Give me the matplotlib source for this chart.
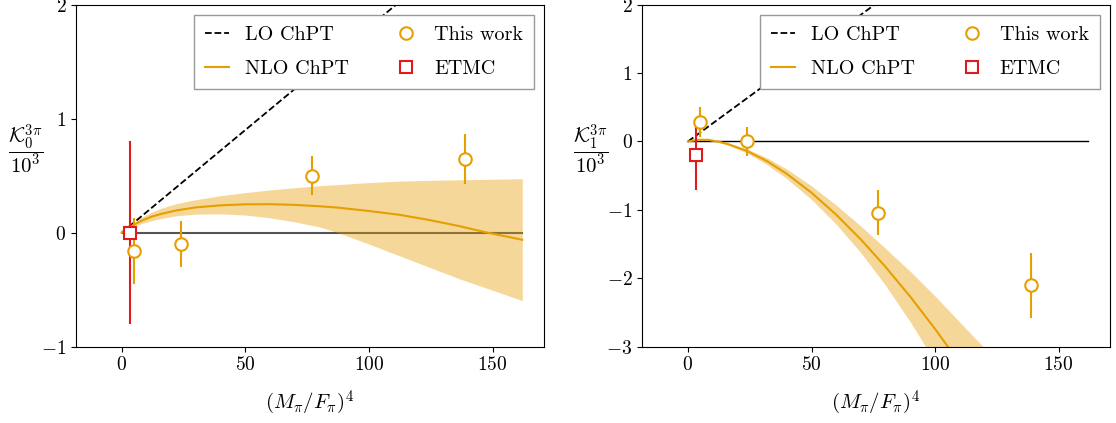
import numpy as np
import matplotlib
matplotlib.use("Agg")
import matplotlib.pyplot as plt
from matplotlib.lines import Line2D

plt.rcParams['font.family'] = 'serif'
plt.rcParams['font.serif'] = ['cmr10']
plt.rcParams['mathtext.fontset'] = 'cm'
plt.rcParams['axes.formatter.use_mathtext'] = True
plt.rcParams['font.size'] = 14

orange = '#E69F00'
red = '#E31A1C'

# lattice points, (M_pi/F_pi)^4
x_pts = [4.9, 23.8, 77.0, 138.7]
# K0 panel
k0_val = [-0.16, -0.10, 0.50, 0.65]
k0_err = [0.29, 0.20, 0.17, 0.22]
# K1 panel
k1_val = [0.29, 0.0, -1.04, -2.10]
k1_err = [0.22, 0.21, 0.33, 0.475]

# ETMC
etmc_x = [3.2]
etmc_k0 = [0.0]
etmc_k0_err = [0.80]
etmc_k1 = [-0.20]
etmc_k1_lo = [0.51]
etmc_k1_hi = [0.42]

# LO lines
lo_x = [0, 162]
lo_k0 = [0, 2.92]
lo_k1 = [0, 4.29]

zero_x = [0, 162]
zero_y = [0, 0]

# NLO curve + band, K0
nlo0_x = [0, 4, 8, 12, 16, 22, 30, 40, 50, 60, 70, 80, 87.5, 100, 112, 124, 136, 148, 162]
nlo0_c = [0, 0.06, 0.105, 0.14, 0.165, 0.195, 0.222, 0.24, 0.249, 0.25, 0.244, 0.232, 0.22, 0.19, 0.158, 0.113, 0.06, 0.0, -0.062]
nlo0_hi = [0, 0.075, 0.135, 0.18, 0.215, 0.255, 0.29, 0.325, 0.352, 0.375, 0.395, 0.412, 0.422, 0.44, 0.452, 0.459, 0.464, 0.468, 0.474]
nlo0_lo = [0, 0.045, 0.08, 0.105, 0.125, 0.148, 0.163, 0.165, 0.155, 0.13, 0.095, 0.05, 0.0, -0.10, -0.20, -0.30, -0.40, -0.49, -0.596]

# NLO curve + band half width, K1
nlo1_x = [0, 4, 8, 12, 16, 24, 32, 40, 50, 60, 70, 80, 90, 100, 110, 120, 130]
nlo1_c = [0, 0.025, 0.025, 0.0, -0.036, -0.14, -0.288, -0.473, -0.749, -1.07, -1.433, -1.835, -2.27, -2.74, -3.24, -3.76, -4.3]
nlo1_h = [0, 0.003, 0.006, 0.01, 0.015, 0.03, 0.05, 0.07, 0.10, 0.14, 0.195, 0.27, 0.37, 0.48, 0.60, 0.74, 0.9]

fig = plt.figure(figsize=(11.16, 4.23), dpi=100)
ax0 = fig.add_axes([0.0681, 0.1804, 0.4194, 0.8085])
ax1 = fig.add_axes([0.5755, 0.1804, 0.4191, 0.8085])


def panel(ax, nx, lo_y, c, hi, lo, val, err, ey, eerr, zcol, zlw):
    ax.plot(zero_x, zero_y, color=zcol, lw=zlw, zorder=1)
    ax.plot(lo_x, lo_y, 'k--', lw=1.3)
    ax.fill_between(nx, lo, hi, color=orange, alpha=0.4, lw=0)
    ax.plot(nx, c, color=orange, lw=1.5)
    ax.errorbar(x_pts, val, yerr=err, fmt='o', color=orange, mfc='white',
                mec=orange, ms=9, mew=1.5, elinewidth=1.5)
    ax.errorbar(etmc_x, ey, yerr=eerr, fmt='s', color=red, mfc='white',
                mec=red, ms=8, mew=1.5, elinewidth=1.5)
    handles = [
        Line2D([], [], color='k', ls='--', lw=1.3, label='LO ChPT'),
        Line2D([], [], color=orange, lw=1.5, label='NLO ChPT'),
        Line2D([], [], color=orange, ls='none', marker='o', mfc='white',
               mew=1.5, ms=9, label='This work'),
        Line2D([], [], color=red, ls='none', marker='s', mfc='white',
               mew=1.5, ms=8, label='ETMC'),
    ]
    ax.legend(handles=handles, ncol=2, loc='upper right', fancybox=False,
              edgecolor='0.6', framealpha=1, fontsize=14.5, handlelength=1.2,
              labelspacing=0.8, borderpad=0.55, columnspacing=2.2)
    ax.set_xlim(-18.5, 170.8)
    ax.set_xticks([0, 50, 100, 150])
    ax.set_xlabel(r'$(M_\pi/F_\pi)^4$', fontsize=15, labelpad=10)


panel(ax0, nlo0_x, lo_k0, nlo0_c, nlo0_hi, nlo0_lo, k0_val, k0_err,
      etmc_k0, etmc_k0_err, '#555555', 1.5)
ax0.set_ylim(-1, 2)
ax0.set_yticks([-1, 0, 1, 2])
ax0.set_ylabel(r'$\dfrac{\mathcal{K}_0^{3\pi}}{10^3}$', rotation=0,
               fontsize=15, labelpad=11)

c1 = np.array(nlo1_c)
h1 = np.array(nlo1_h)
panel(ax1, nlo1_x, lo_k1, nlo1_c, c1 + h1, c1 - h1, k1_val, k1_err,
      etmc_k1, [etmc_k1_lo, etmc_k1_hi], 'k', 1.0)
ax1.set_ylim(-3, 2)
ax1.set_yticks([-3, -2, -1, 0, 1, 2])
ax1.set_ylabel(r'$\dfrac{\mathcal{K}_1^{3\pi}}{10^3}$', rotation=0,
               fontsize=15, labelpad=11)

fig.savefig('out.png', dpi=100)
